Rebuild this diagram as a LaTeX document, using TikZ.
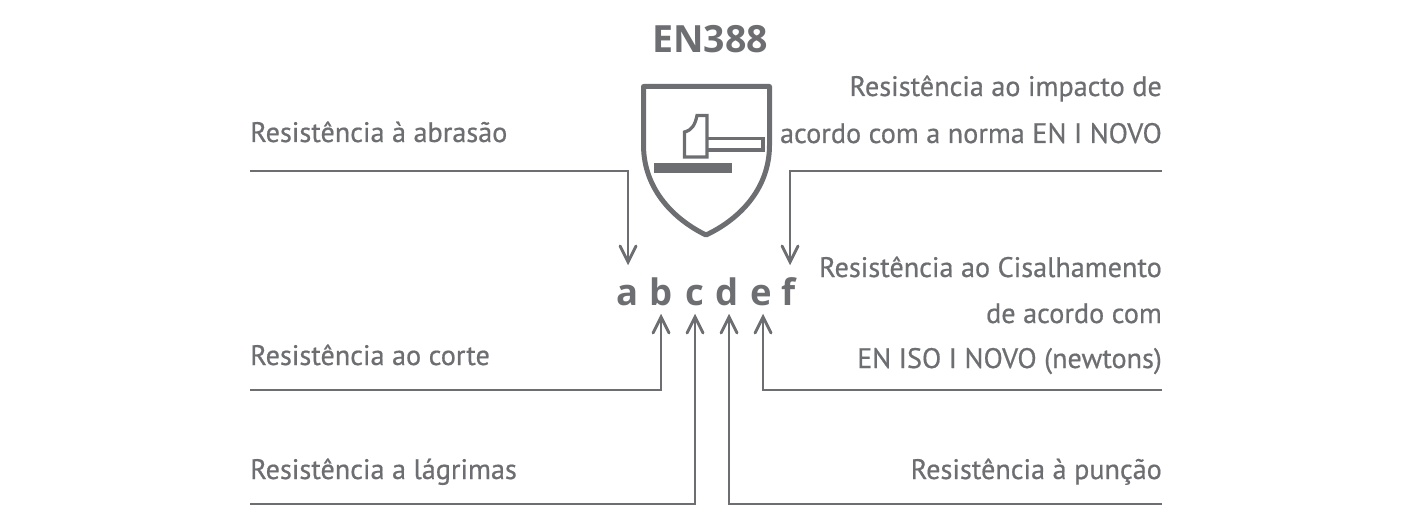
\documentclass[tikz,border=0pt]{standalone}
\usepackage{fontspec}
\setmainfont[FakeBold=0.6]{PT Sans}
\newfontfamily\titlefont{Open Sans}
\usetikzlibrary{calc}
\definecolor{ink}{RGB}{109,110,113}
\tikzset{
  x=1pt,y=-1pt,
  lab/.style={inner sep=0pt,text=ink,font=\fontsize{28.2}{32}\selectfont},
  labl/.style={lab,anchor=base west},
  labr/.style={lab,anchor=base east},
  letter/.style={inner sep=0pt,anchor=base,text=ink,font=\titlefont\bfseries\fontsize{36.5}{42}\selectfont},
  conn/.style={draw=ink,line width=2.9pt,line join=miter},
  tip/.style={draw=ink,line width=2.9pt,fill=none,line cap=round}
}
\newcommand{\uptip}[1]{\draw[tip] ($(#1)+(-8,16)$) -- (#1) -- ($(#1)+(8,16)$);}
\newcommand{\dntip}[1]{\draw[tip] ($(#1)+(-8,-16)$) -- (#1) -- ($(#1)+(8,-16)$);}
\begin{document}
\begin{tikzpicture}
\useasboundingbox (0,0) rectangle (1420,529);
\node[inner sep=0pt,anchor=base,text=ink,font=\titlefont\bfseries\fontsize{37.5}{42}\selectfont] (title) at (710,53) {EN388};
% shield
\draw[ink,line width=5pt,line join=round] (643.5,86.5) -- (769.5,86.5) -- (769.5,145) .. controls (769.5,190) and (738,220) .. (706,235) .. controls (675,220) and (643.5,190) .. (643.5,145) -- cycle;
\draw[ink,line width=3.2pt] (684.5,157) -- (684.5,132) .. controls (692,130) and (695,125) .. (697,115.5) -- (707,115.5) -- (707,157) -- cycle;
\draw[ink,line width=3.2pt] (707,138.5) -- (763,138.5) -- (763,150) -- (707,150);
\fill[ink] (654,163) rectangle (732,173.5);
% letters
\node[letter] (a) at (627.5,305) {a};
\node[letter] (b) at (661,305) {b};
\node[letter] (c) at (695,305) {c};
\node[letter] (d) at (727,305) {d};
\node[letter] (e) at (761,305) {e};
\node[letter] (f) at (789,305) {f};
% labels
\node[labl] (l1) at (250,142) {Resistência à abrasão};
\node[labl] (l2) at (250,365) {Resistência ao corte};
\node[labl] (l3) at (250,479) {Resistência a lágrimas};
\node[labr] (r1) at (1162,96) {Resistência ao impacto de};
\node[labr] (r2) at (1162,143) {acordo com a norma EN I NOVO};
\node[labr] (r3) at (1162,277) {Resistência ao Cisalhamento};
\node[labr] (r4) at (1162,323) {de acordo com};
\node[labr] (r5) at (1162,368) {EN ISO I NOVO (newtons)};
\node[labr] (r6) at (1162,479) {Resistência à punção};
% connectors
\coordinate (sa) at (250,171); \coordinate (ta) at (628,262);
\coordinate (sf) at (1162,171); \coordinate (tf) at (790,262);
\coordinate (sb) at (250,390); \coordinate (tb) at (661,317);
\coordinate (se) at (1162,390); \coordinate (te) at (763,317);
\coordinate (sc) at (250,504); \coordinate (tc) at (695,317);
\coordinate (sd) at (1162,504); \coordinate (td) at (729,317);
\draw[conn] (sa) -| (ta); \dntip{ta}
\draw[conn] (sf) -| (tf); \dntip{tf}
\draw[conn] (sb) -| (tb); \uptip{tb}
\draw[conn] (se) -| (te); \uptip{te}
\draw[conn] (sc) -| (tc); \uptip{tc}
\draw[conn] (sd) -| (td); \uptip{td}
\end{tikzpicture}
\end{document}
